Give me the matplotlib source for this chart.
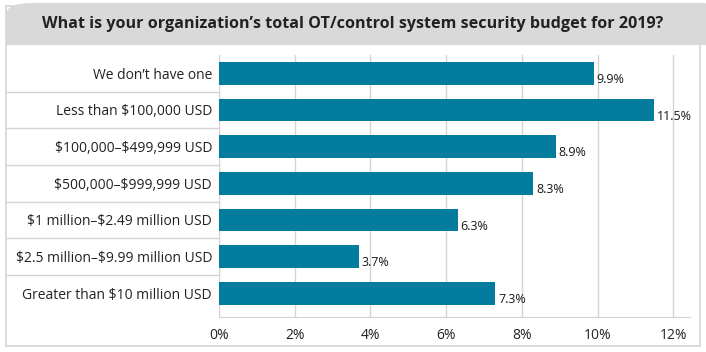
import matplotlib.pyplot as plt
from matplotlib.patches import FancyBboxPatch, Rectangle

# dados
categorias = ['We don\u2019t have one', 'Less than $100,000 USD', '$100,000\u2013$499,999 USD',
              '$500,000\u2013$999,999 USD', '$1 million\u2013$2.49 million USD',
              '$2.5 million\u2013$9.99 million USD', 'Greater than $10 million USD']
valores = [9.9, 11.5, 8.9, 8.3, 6.3, 3.7, 7.3]
rotulos = ['9.9%', '11.5%', '8.9%', '8.3%', '6.3%', '3.7%', '7.3%']
ticks = [0, 2, 4, 6, 8, 10, 12]
titulo = 'What is your organization\u2019s total OT/control system security budget for 2019?'

W, H = 706, 352
cor_barra = '#047c9e'
cor_linha = '#d4d4d4'

plt.rcParams['font.family'] = ['Open Sans', 'DejaVu Sans']

fig = plt.figure(figsize=(W / 100, H / 100), dpi=100)

# moldura e faixa do titulo
fig.patches.append(Rectangle((6 / W, 6 / H), 694 / W, 340 / H,
                             transform=fig.transFigure, fc='white',
                             ec=cor_linha, lw=1.2, zorder=-2))
fig.patches.append(FancyBboxPatch((6 / W, 307 / H), 720 / W, 42 / H,
                                  boxstyle='round,pad=0,rounding_size=0.035',
                                  transform=fig.transFigure, fc='#d9d9d9',
                                  ec='none', zorder=-1))
fig.patches.append(Rectangle((6 / W, 307 / H), 720 / W, 20 / H,
                             transform=fig.transFigure, fc='#d9d9d9',
                             ec='none', zorder=-1))
fig.text(353 / W, 1 - 24 / H, titulo, ha='center', va='center',
         fontsize=11.6, fontweight='bold', color='#222222')

ax = fig.add_axes([219 / W, 1 - 317 / H, (690 - 219) / W, (317 - 55) / H])
ax.set_zorder(2)
ax.patch.set_alpha(0)
y = list(range(len(categorias)))
ax.barh(y, valores, height=0.62, color=cor_barra, zorder=3)
for i, v in enumerate(valores):
    ax.text(v + 0.07, i + 0.17, rotulos[i], va='center', ha='left',
            fontsize=9, color='#1a1a1a')

ax.set_xlim(0, 12.44)
ax.set_ylim(6.65, -0.5)
ax.set_xticks(ticks)
ax.set_xticklabels([f'{t}%' for t in ticks], fontsize=10, color='#222222')
ax.set_yticks(y)
ax.set_yticklabels([c.replace('$', r'\$') for c in categorias], fontsize=10, color='#222222')
ax.tick_params(length=0, pad=5)
ax.tick_params(axis='x', pad=8)
ax.grid(axis='x', color=cor_linha, lw=1, zorder=0)
for s in ['top', 'right']:
    ax.spines[s].set_visible(False)
ax.spines['left'].set_color(cor_linha)
ax.spines['bottom'].set_color(cor_linha)

# linhas separadoras das categorias
for k in range(len(categorias) - 1):
    ax.axhline(k + 0.5, xmin=(6 - 219) / (690 - 219), xmax=0, color=cor_linha,
               lw=1, clip_on=False)

fig.savefig('out.png', dpi=100)
